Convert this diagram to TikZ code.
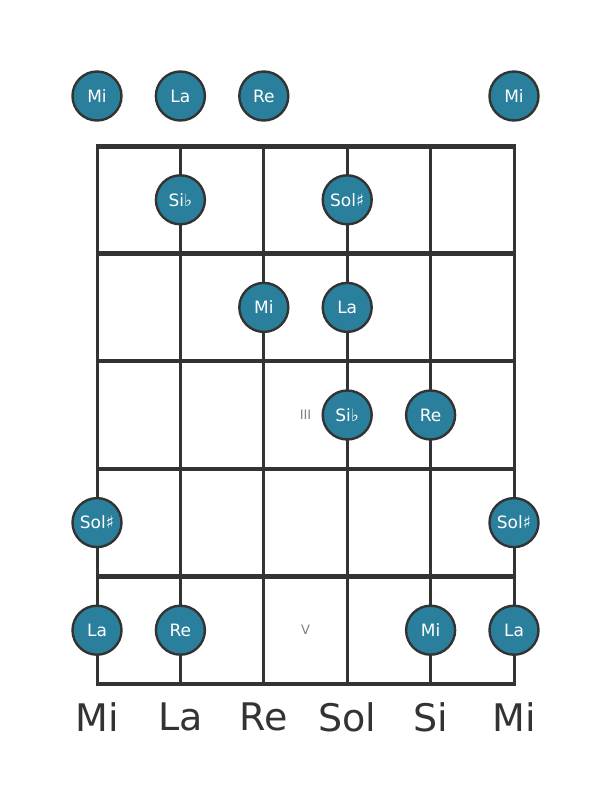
\documentclass[tikz,border=0pt]{standalone}
\usepackage{fontspec}
\setmainfont{DejaVu Sans}
\definecolor{notefill}{HTML}{2A809C}
\definecolor{linec}{HTML}{333333}
\definecolor{markc}{HTML}{808080}
\tikzset{
  note/.style={circle, draw=linec, line width=2.4pt, fill=notefill, minimum size=49pt, inner sep=0pt, text=white, font=\fontsize{17}{17}\selectfont},
  stringline/.style={draw=linec, line width=3pt},
  fretline/.style={draw=linec, line width=4.5pt},
  fretmark/.style={text=markc, font=\fontsize{13}{13}\selectfont},
  strname/.style={text=linec, font=\fontsize{38}{38}\selectfont}
}
\begin{document}
\begin{tikzpicture}[x=1pt,y=-1pt]
\useasboundingbox (0,0) rectangle (611,801);
% strings
\foreach \x in {97,180.4,263.8,347.2,430.6,514} {
  \draw[stringline] (\x,146) -- (\x,684);
}
% frets
\draw[draw=linec, line width=5pt] (95.5,146) -- (515.5,146);
\foreach \y in {253.6,361.2,468.8,576.4} {
  \draw[fretline] (95.5,\y) -- (515.5,\y);
}
\draw[fretline] (95.5,684) -- (515.5,684);
% open strings
\node[note] (o1) at (97,96) {Mi};
\node[note] (o2) at (180.4,96) {La};
\node[note] (o3) at (263.8,96) {Re};
\node[note] (o6) at (514,96) {Mi};
% fret 1
\node[note] (f1a) at (180.4,199.8) {Si♭};
\node[note] (f1b) at (347.2,199.8) {Sol♯};
% fret 2
\node[note] (f2a) at (263.8,307.4) {Mi};
\node[note] (f2b) at (347.2,307.4) {La};
% fret 3
\node[fretmark] (m3) at (305.5,415) {III};
\node[note] (f3a) at (347.2,415) {Si♭};
\node[note] (f3b) at (430.6,415) {Re};
% fret 4
\node[note] (f4a) at (97,522.6) {Sol♯};
\node[note] (f4b) at (514,522.6) {Sol♯};
% fret 5
\node[note] (f5a) at (97,630.2) {La};
\node[note] (f5b) at (180.4,630.2) {Re};
\node[fretmark] (m5) at (305.5,630.2) {V};
\node[note] (f5c) at (430.6,630.2) {Mi};
\node[note] (f5d) at (514,630.2) {La};
% string names
\node[strname] (s1) at (97,717) {Mi};
\node[strname] (s2) at (180.4,717) {La};
\node[strname] (s3) at (263.8,717) {Re};
\node[strname] (s4) at (347.2,717) {Sol};
\node[strname] (s5) at (430.6,717) {Si};
\node[strname] (s6) at (514,717) {Mi};
\end{tikzpicture}
\end{document}
